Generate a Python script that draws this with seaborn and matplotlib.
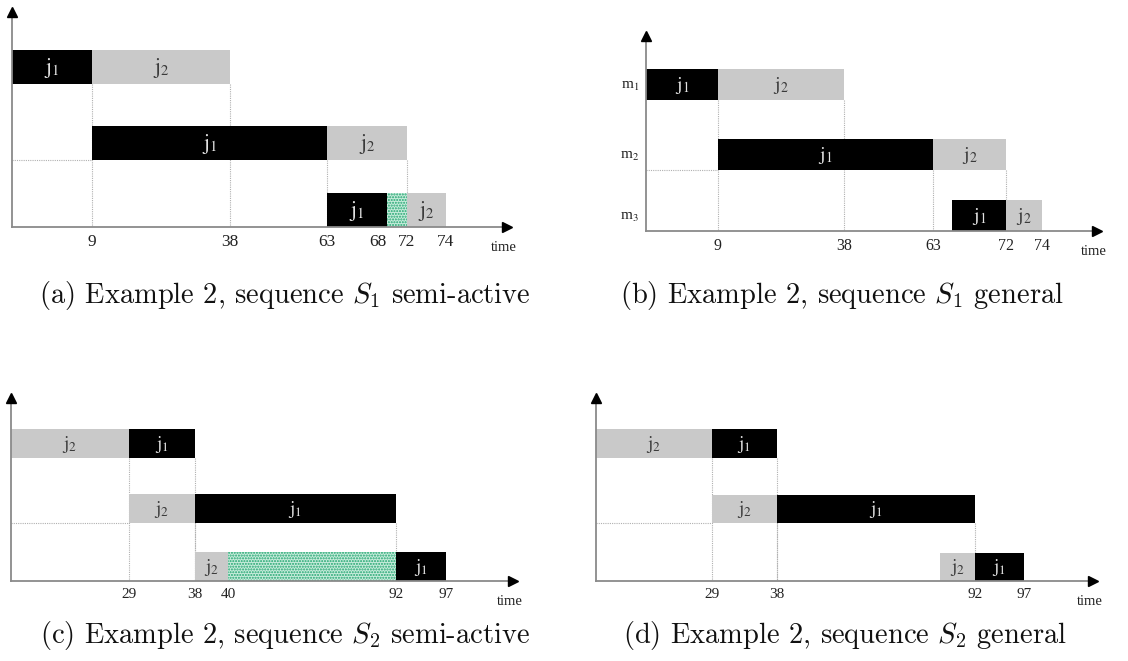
import numpy as np
import matplotlib
matplotlib.use("Agg")
import matplotlib.pyplot as plt
import seaborn as sns

# ---- schedule data: machine row, job, start, end ----
a_machine = [1, 1, 2, 2, 3, 3, 3]
a_job = ["j1", "j2", "j1", "j2", "j1", "idle", "j2"]
a_start = [0, 9, 9, 63, 63, 68, 72]
a_end = [9, 38, 63, 72, 68, 72, 74]
a_ticks = [9, 38, 63, 68, 72, 74]

b_machine = [1, 1, 2, 2, 3, 3]
b_job = ["j1", "j2", "j1", "j2", "j1", "j2"]
b_start = [0, 9, 9, 63, 67, 72]
b_end = [9, 38, 63, 72, 72, 74]
b_ticks = [9, 38, 63, 72, 74]

c_machine = [1, 1, 2, 2, 3, 3, 3]
c_job = ["j2", "j1", "j2", "j1", "j2", "idle", "j1"]
c_start = [0, 29, 29, 38, 38, 40, 92]
c_end = [29, 38, 38, 92, 40, 92, 97]
c_ticks = [29, 38, 40, 92, 97]

d_machine = [1, 1, 2, 2, 3, 3]
d_job = ["j2", "j1", "j2", "j1", "j2", "j1"]
d_start = [0, 29, 29, 38, 90, 92]
d_end = [29, 38, 38, 92, 92, 97]
d_ticks = [29, 38, 92, 97]

machine_labels = ["m$_1$", "m$_2$", "m$_3$"]

captions = [
    r"(a) Example 2, sequence $S_1$ semi-active",
    r"(b) Example 2, sequence $S_1$ general",
    r"(c) Example 2, sequence $S_2$ semi-active",
    r"(d) Example 2, sequence $S_2$ general",
]

# ---- layout (figure pixels); the time axis is not drawn to scale in the
# original, so each panel gets a piecewise time->pixel scale ----
W, H = 1128, 661
panels = [
    dict(data=(a_machine, a_job, a_start, a_end, a_ticks),
         x0=12, tip=507, yaxis=227, ytop=12,
         knots_t=[0, 9, 38, 63, 68, 72, 74, 80],
         knots_px=[12, 92, 230, 327, 387, 407, 446, 507],
         rows=[66.8, 142.8, 210], bar_h=33.5, tick_fs=12.5, job_fs=15,
         ylabels=False, caption=(285, 296)),
    dict(data=(b_machine, b_job, b_start, b_end, b_ticks),
         x0=646, tip=1097, yaxis=231, ytop=36,
         knots_t=[0, 9, 38, 63, 67, 72, 74, 80],
         knots_px=[646, 718, 844, 933, 952, 1006, 1042, 1097],
         rows=[84.8, 154.3, 215.5], bar_h=31, tick_fs=11.5, job_fs=14,
         ylabels=True, caption=(842, 296)),
    dict(data=(c_machine, c_job, c_start, c_end, c_ticks),
         x0=11, tip=513, yaxis=581, ytop=398,
         knots_t=[0, 29, 38, 40, 92, 97, 105],
         knots_px=[11, 129, 195, 228, 396, 446, 513],
         rows=[443.5, 508.5, 566.5], bar_h=29, tick_fs=11, job_fs=13.5,
         ylabels=False, caption=(285, 636)),
    dict(data=(d_machine, d_job, d_start, d_end, d_ticks),
         x0=596, tip=1093, yaxis=581, ytop=398,
         knots_t=[0, 29, 38, 90, 92, 97, 105],
         knots_px=[596, 712, 777, 940, 975, 1024, 1093],
         rows=[443.5, 509, 567], bar_h=28.5, tick_fs=11, job_fs=13.5,
         ylabels=False, caption=(845, 636)),
]

sns.set_theme(style="white")
plt.rcParams["font.family"] = ["Liberation Serif", "DejaVu Serif"]
plt.rcParams["mathtext.fontset"] = "stix"
plt.rcParams["hatch.linewidth"] = 1.0

job_color = {"j1": "#000000", "j2": "#c9c9c9"}
text_color = {"j1": "#e2e2e2", "j2": "#3a3a3a"}
axis_grey = "#8a8a8a"
guide_grey = "#b0b0b0"
idle_face = "#c8ecdc"
idle_hatch = "#1fa56f"

fig = plt.figure(figsize=(W / 100, H / 100), dpi=100)

for i, p in enumerate(panels):
    machine, job, start, end, ticks = p["data"]
    ax = fig.add_axes([p["x0"] / W, 1 - p["yaxis"] / H,
                       (p["tip"] - p["x0"]) / W, (p["yaxis"] - p["ytop"]) / H])
    kt, kp = p["knots_t"], p["knots_px"]
    fwd = lambda t, kt=kt, kp=kp: np.interp(t, kt, kp)
    inv = lambda x, kt=kt, kp=kp: np.interp(x, kp, kt)
    ax.set_xscale("function", functions=(fwd, inv))
    ax.set_xlim(kt[0], kt[-1])
    ax.set_ylim(p["yaxis"], p["ytop"])

    rows = p["rows"]
    h = p["bar_h"]
    nrows = max(machine)

    # dotted guides: from the bottom of each operation's end down to the axis
    for m, s, e in zip(machine, start, end):
        if m < nrows:
            ax.plot([e, e], [rows[m - 1] + h / 2, p["yaxis"]], ls=(0, (1, 1)),
                    color=guide_grey, lw=0.8, zorder=1)
    # dotted horizontal at bottom of each row before its first operation
    for m in range(1, nrows):
        first = min(s for mm, s in zip(machine, start) if mm == m)
        if first > 0:
            ax.plot([0, first], [rows[m - 1] + h / 2] * 2, ls=(0, (1, 1)),
                    color=guide_grey, lw=0.8, zorder=1)

    for m, j, s, e in zip(machine, job, start, end):
        y = rows[m - 1]
        if j == "idle":
            ax.barh(y, e - s, left=s, height=h, color=idle_face,
                    edgecolor=idle_hatch, hatch="......", lw=0, zorder=2)
            continue
        ax.barh(y, e - s, left=s, height=h, color=job_color[j], lw=0, zorder=2)
        xm = inv((fwd(s) + fwd(e)) / 2)
        ax.text(xm, y + 1, r"$\mathrm{j}_{%s}$" % j[1], ha="center", va="center",
                fontsize=p["job_fs"], color=text_color[j], zorder=3)

    for side in ["top", "right"]:
        ax.spines[side].set_visible(False)
    for side in ["left", "bottom"]:
        ax.spines[side].set_color(axis_grey)
        ax.spines[side].set_linewidth(1.3)
        ax.spines[side].set_zorder(4)
    ax.plot(0, 1, marker="^", color="black", ms=7, transform=ax.transAxes,
            clip_on=False, zorder=5)
    ax.plot(1, 0, marker=">", color="black", ms=7, transform=ax.transAxes,
            clip_on=False, zorder=5)

    ax.set_xticks(ticks)
    ax.set_xticklabels([str(t) for t in ticks])
    ax.tick_params(axis="x", length=0, pad=5, labelsize=p["tick_fs"],
                   labelcolor="#222222")
    # the "68" label sits left of its tick so it does not touch "72"
    for lab in ax.get_xticklabels():
        if lab.get_text() == "68":
            lab.set_ha("right")
    if p["ylabels"]:
        ax.set_yticks(rows)
        ax.set_yticklabels(machine_labels)
        ax.tick_params(axis="y", length=0, pad=5, labelsize=11,
                       labelcolor="#222222")
    else:
        ax.set_yticks([])
    ax.annotate("time", xy=(1, 0), xycoords="axes fraction", xytext=(-2, -15),
                textcoords="offset points", ha="center", va="center",
                fontsize=10.5, color="#222222")

    cx, cy = p["caption"]
    fig.text(cx / W, 1 - cy / H, captions[i], ha="center",
             va="center", fontsize=20.5, family="cmr10", math_fontfamily="cm",
             color="#111111")

fig.savefig("out.png", dpi=100)
